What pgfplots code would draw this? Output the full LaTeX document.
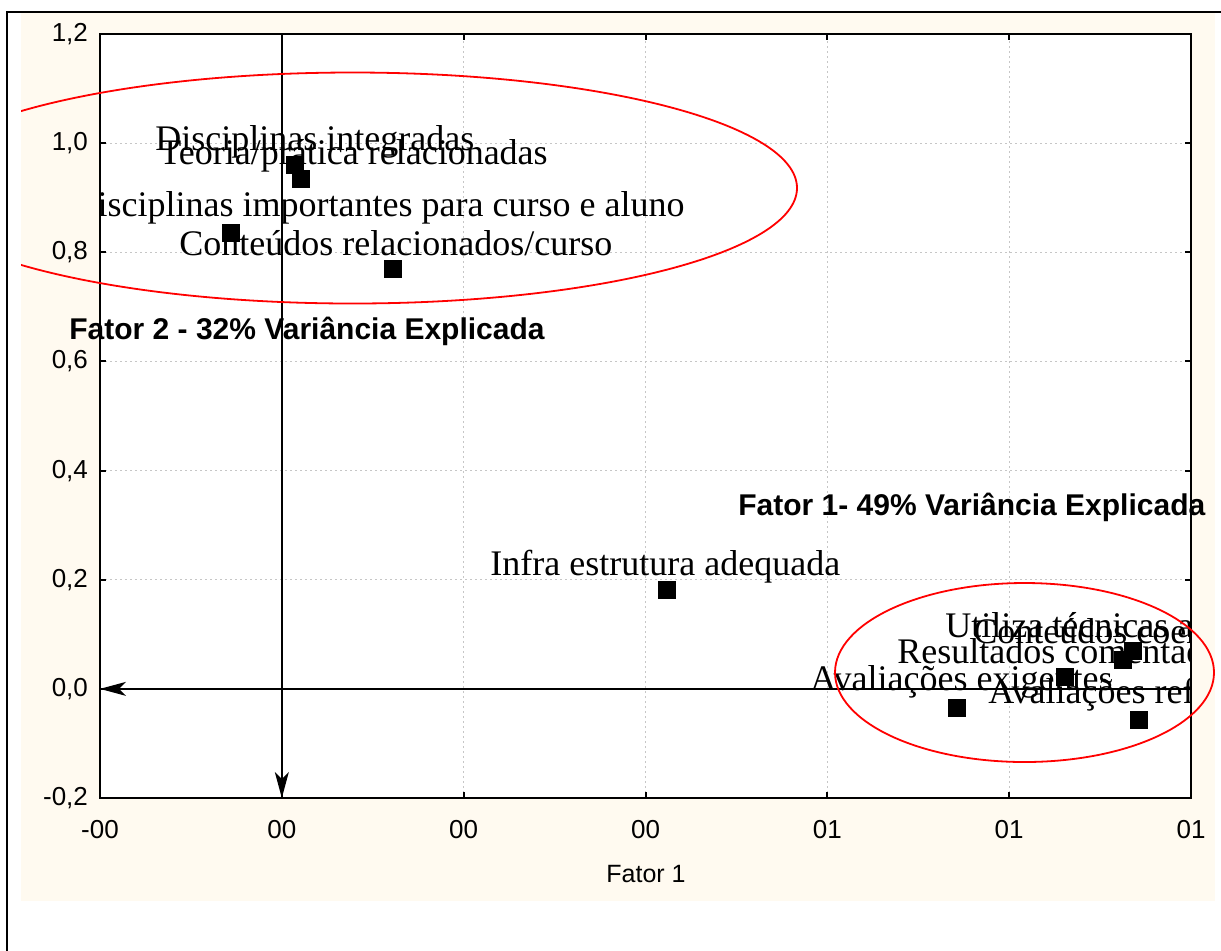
\documentclass[border=0pt]{standalone}
\usepackage{fontspec}
\setmainfont{Liberation Serif}
\setsansfont{Liberation Sans}
\usepackage{pgfplots}
\pgfplotsset{compat=1.18}
\usetikzlibrary{arrows.meta}
\definecolor{cream}{HTML}{FFFAF0}
\begin{document}
\begin{tikzpicture}[lab/.style={font=\fontsize{18}{21}\selectfont, inner sep=0pt}]
\useasboundingbox (0,0) rectangle (610.5pt,-475pt);
\fill[white] (0,0) rectangle (610.5pt,-475pt);
\fill[cream] (10.5pt,-6pt) rectangle (607.5pt,-450.5pt);
\draw[line width=1pt] (3.5pt,-476pt) -- (3.5pt,-6pt) -- (611pt,-6pt);
\begin{axis}[
  at={(50pt,-17pt)}, anchor=north west,
  width=545.5pt, height=382pt, scale only axis,
  xmin=-0.2, xmax=1.0, ymin=-0.2, ymax=1.2,
  xtick={-0.2,0,0.2,0.4,0.6,0.8,1.0},
  xticklabels={-00,00,00,00,01,01,01},
  ytick={-0.2,0,0.2,0.4,0.6,0.8,1.0,1.2},
  yticklabels={{-0,2},{0,0},{0,2},{0,4},{0,6},{0,8},{1,0},{1,2}},
  tick align=inside, major tick length=3pt,
  tick style={black, line width=1pt},
  axis line style={black, line width=1pt},
  grid=major,
  major grid style={gray!45, line width=0.5pt, dash pattern=on 1pt off 1.5pt},
  axis background/.style={fill=white},
  ticklabel style={font=\sffamily\fontsize{13}{15}\selectfont},
  xticklabel style={yshift=-7.5pt},
  yticklabel style={xshift=-2.5pt},
  xlabel={Fator 1},
  xlabel style={font=\sffamily\fontsize{12.5}{15}\selectfont, at={(axis description cs:0.5005,0)}, anchor=base, yshift=-42pt},
]
\begin{scope}
\clip (rel axis cs:0,0) rectangle (rel axis cs:1,1);
\node[lab, anchor=base west] at (axis cs:-0.1395,0.9874) {Disciplinas integradas};
\node[lab, anchor=base west] at (axis cs:-0.1351,0.9600) {Teoria/prática relacionadas};
\node[lab, anchor=base east] at (axis cs:0.4434,0.8647) {Disciplinas importantes para curso e aluno};
\node[lab, anchor=base west] at (axis cs:-0.1131,0.7950) {Conteúdos relacionados/curso};
\node[lab, anchor=base west] at (axis cs:0.2290,0.2086) {Infra estrutura adequada};
\node[lab, anchor=base west] at (axis cs:0.7294,0.0950) {Utiliza técnicas adequadas};
\node[lab, anchor=base west] at (axis cs:0.7602,0.0840) {Conteúdos coerentes};
\node[lab, anchor=base west] at (axis cs:0.6766,0.0474) {Resultados comentados};
\node[lab, anchor=base west] at (axis cs:0.5809,-0.0021) {Avaliações exigentes};
\node[lab, anchor=base west] at (axis cs:0.7767,-0.0259) {Avaliações refletem o conteúdo};
\end{scope}
\addplot[black, line width=0.7pt, -{Stealth[length=13pt,width=7pt,inset=3.5pt]}] coordinates {(0,1.2) (0,-0.2)};
\addplot[black, line width=0.7pt, -{Stealth[length=13pt,width=7pt,inset=3.5pt]}] coordinates {(1.0,0) (-0.2,0)};
\addplot[only marks, mark=square*, mark size=4.25pt, black] coordinates {
  (0.0139,0.960) (0.0211,0.935) (-0.0559,0.835) (0.1217,0.7695)
  (0.4236,0.181)
  (0.9362,0.0695) (0.9252,0.0530) (0.8614,0.0218) (0.7426,-0.0350) (0.9428,-0.0570)
};
\end{axis}
\node[anchor=base west, inner sep=0pt, font=\sffamily\bfseries\fontsize{15}{18}\selectfont] at (34.5pt,-169.5pt) {Fator 2 - 32\% Variância Explicada};
\node[anchor=base west, inner sep=0pt, font=\sffamily\bfseries\fontsize{15}{18}\selectfont] at (369pt,-257.5pt) {Fator 1- 49\% Variância Explicada};
\begin{scope}
\clip (10.5pt,-6pt) rectangle (607.5pt,-450.5pt);
\draw[red, line width=0.9pt] (176.3pt,-94pt) ellipse [x radius=222.2pt, y radius=57.75pt];
\draw[red, line width=0.9pt] (512.25pt,-336.25pt) ellipse [x radius=94.75pt, y radius=44.75pt];
\end{scope}
\end{tikzpicture}
\end{document}
